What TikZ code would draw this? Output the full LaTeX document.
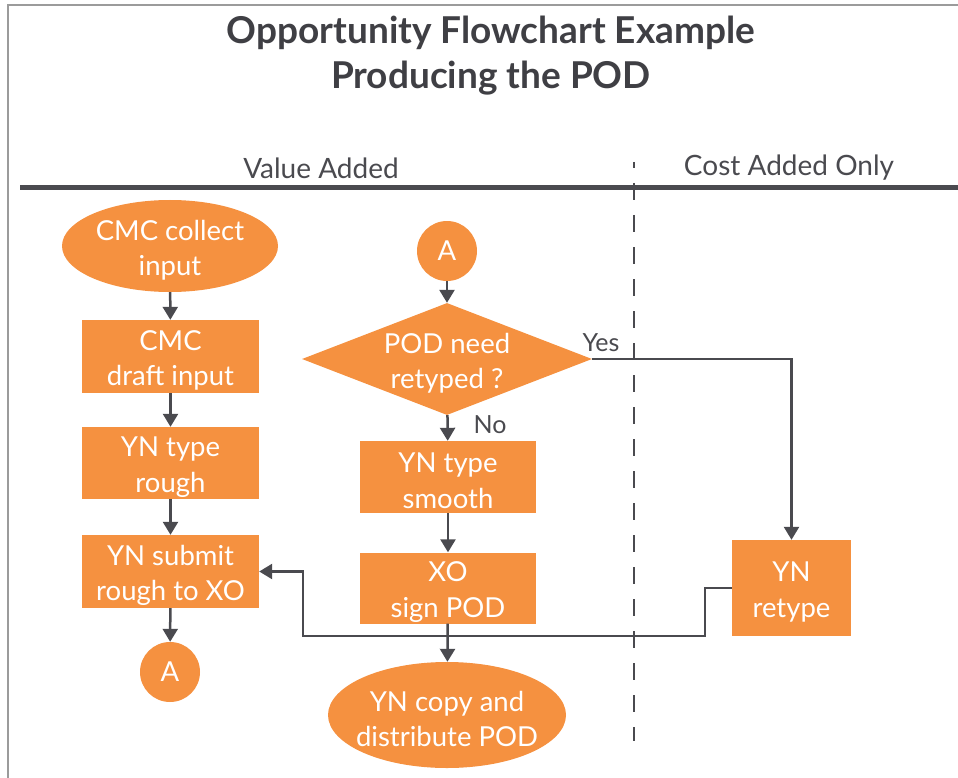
\documentclass[tikz,border=0pt]{standalone}
\usepackage{fontspec}
\setmainfont{Lato}
\usetikzlibrary{shapes.geometric,arrows.meta}
\definecolor{orng}{HTML}{F59140}
\definecolor{ink}{HTML}{4A4A4F}
\definecolor{titleink}{HTML}{3F3F44}
\definecolor{framegray}{HTML}{9B9B9B}
\begin{document}
\begin{tikzpicture}[x=1pt,y=-1pt,
  bodyfont/.style={font=\fontsize{27.5}{35.5}\selectfont},
  inner/.style={text=white, align=center, bodyfont, inner sep=0pt, yshift=-4pt},
  txt/.style={label={[inner]center:#1}},
  box/.style={rectangle, fill=orng, draw=none, inner sep=0pt},
  oval/.style={ellipse, fill=orng, draw=none, inner sep=0pt},
  conn/.style={circle, fill=orng, draw=none, text=white, inner sep=0pt, minimum size=60pt, bodyfont},
  flow/.style={draw=ink, line width=2.5pt, -{Triangle[length=13pt,width=15pt]}},
  lbl/.style={text=ink, font=\fontsize{25}{29}\selectfont, inner sep=0pt},
  hdr/.style={text=ink, font=\fontsize{28}{32}\selectfont, inner sep=0pt},
  ttl/.style={text=titleink, font=\bfseries\fontsize{37}{42}\selectfont, inner sep=0pt}
]
\useasboundingbox (0,0) rectangle (958,778);
% frame
\draw[framegray, line width=2.5pt] (8,778) -- (8,5) -- (958,5);
% title
\node[ttl] (t1) at (491,33) {Opportunity Flowchart Example};
\node[ttl] (t2) at (491,78) {Producing the POD};
% headers
\node[hdr] (h1) at (321,168) {Value Added};
\node[hdr] (h2) at (789,168) {Cost Added Only};
\draw[ink, line width=4.5pt] (20,187.5) -- (958,187.5);
\draw[ink, line width=2.2pt, dash pattern=on 17pt off 15pt, dash phase=11pt] (634,162) -- (634,741);

% left column
\node[oval, minimum width=216pt, minimum height=92pt, txt={CMC collect\\input}] (col) at (170,246) {};
\node[box, minimum width=177pt, minimum height=73pt, txt={CMC\\draft input}] (drf) at (170.5,356.5) {};
\node[box, minimum width=177pt, minimum height=72pt, txt={YN type\\rough}] (rgh) at (170.5,463) {};
\node[box, minimum width=177pt, minimum height=73pt, txt={YN submit\\rough to XO}] (sub) at (170.5,571.5) {};
\node[conn] (a1) at (170,672) {A};

% middle column
\node[conn] (a2) at (447,251) {A};
\node[diamond, fill=orng, draw=none, inner sep=0pt, aspect=2.59, minimum width=290pt, minimum height=112pt, txt={POD need\\retyped ?}] (dia) at (447,359) {};
\node[box, minimum width=176pt, minimum height=72pt, txt={YN type\\smooth}] (smo) at (448,477) {};
\node[box, minimum width=176pt, minimum height=71pt, txt={XO\\sign POD}] (sgn) at (448,588) {};
\node[oval, minimum width=238pt, minimum height=106pt, txt={YN copy and\\distribute POD}] (cpy) at (447,715) {};

% right column
\node[box, minimum width=119pt, minimum height=96pt, txt={YN\\retype}] (ret) at (791.5,588) {};

% labels
\node[lbl] (yes) at (601,343) {Yes};
\node[lbl] (no) at (490,425) {No};

% connectors
\draw[flow] (col) -- (drf);
\draw[flow] (drf) -- (rgh);
\draw[flow] (rgh) -- (sub);
\draw[flow] (sub) -- (a1);
\draw[flow] (a2) -- (dia);
\draw[flow] (dia) -- (smo);
\draw[flow] (smo) -- (sgn);
\draw[flow] (sgn) -- (cpy);
\draw[flow] (dia.east) -| (ret.north);
\coordinate (j1) at (705,588);
\coordinate (j2) at (705,636);
\coordinate (j3) at (303,636);
\coordinate (j4) at (303,571.5);
\draw[flow] (ret.west) -- (j1) -- (j2) -- (j3) -- (j4) -- (sub.east);
\end{tikzpicture}
\end{document}
